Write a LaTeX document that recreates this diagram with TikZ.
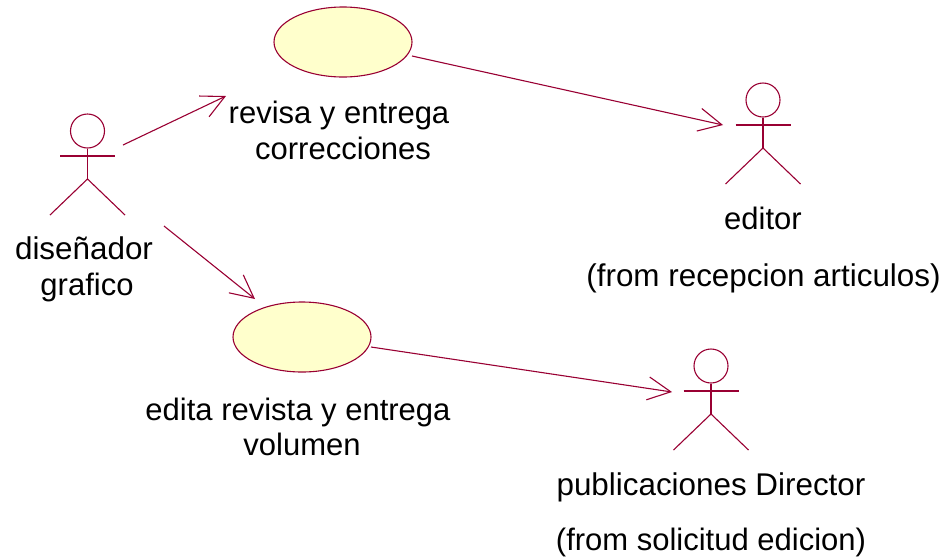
\documentclass[tikz,border=0pt]{standalone}
\usepackage{fontspec}
\setmainfont{Liberation Sans}
\usetikzlibrary{arrows.meta,shapes.geometric}
\definecolor{umlline}{HTML}{990033}
\definecolor{umlfill}{HTML}{FFFFCC}
\tikzset{
  x=1pt,y=-1pt,
  usecase/.style={draw=umlline,fill=umlfill,ellipse,line width=1.1pt,minimum width=138pt,minimum height=70pt,inner sep=0pt},
  actorhead/.style={draw=umlline,circle,line width=1.1pt,minimum size=34pt,inner sep=0pt},
  actorline/.style={draw=umlline,line width=1.1pt},
  flow/.style={draw=umlline,line width=1.1pt,-{Straight Barb[length=23pt,width=23pt,line width=1.1pt]}},
  lbl/.style={anchor=base,inner sep=0pt,font=\fontsize{31}{31}\selectfont,text=black},
  lblwide/.style={lbl,font=\fontsize{31.4}{32}\selectfont},
}
\newcommand{\umlactor}[3]{%
  \node[actorhead] (#1) at (#2,#3) {};
  \coordinate (#1hip) at (#2,#3+48);
  \draw[actorline] (#1.south) -- (#1hip);
  \draw[actorline] (#2-27.5,#3+25) -- (#2+27.5,#3+25);
  \draw[actorline] (#2-37.5,#3+84) -- (#1hip) -- (#2+37.5,#3+84);
}
\begin{document}
\begin{tikzpicture}
\useasboundingbox (0,0) rectangle (945,558);
\node[usecase] (uc1) at (343,42) {};
\node[usecase] (uc2) at (302,337) {};
\umlactor{dis}{87.5}{131}
\umlactor{edi}{763}{100}
\umlactor{pub}{711}{366}
\coordinate (a1s) at (123,145);
\coordinate (a1e) at (226,96);
\coordinate (a2s) at (164,226);
\coordinate (a2e) at (255,299);
\coordinate (a3s) at (412,56);
\coordinate (a3e) at (723,125);
\coordinate (a4s) at (371,347);
\coordinate (a4e) at (672,392);
\draw[flow] (a1s) -- (a1e);
\draw[flow] (a2s) -- (a2e);
\draw[flow] (a3s) -- (a3e);
\draw[flow] (a4s) -- (a4e);
\node[lbl] (t1) at (339,123) {revisa y entrega};
\node[lbl] (t2) at (343,159) {correcciones};
\node[lblwide] (t3) at (84,259) {diseñador};
\node[lbl] (t4) at (87,295) {grafico};
\node[lbl] (t5) at (763,229) {editor};
\node[lblwide] (t6) at (763.5,286) {(from recepcion articulos)};
\node[lbl] (t7) at (298,420) {edita revista y entrega};
\node[lbl] (t8) at (302,455) {volumen};
\node[lblwide] (t9) at (711,495) {publicaciones Director};
\node[lbl] (t10) at (711,550) {(from solicitud edicion)};
\end{tikzpicture}
\end{document}
